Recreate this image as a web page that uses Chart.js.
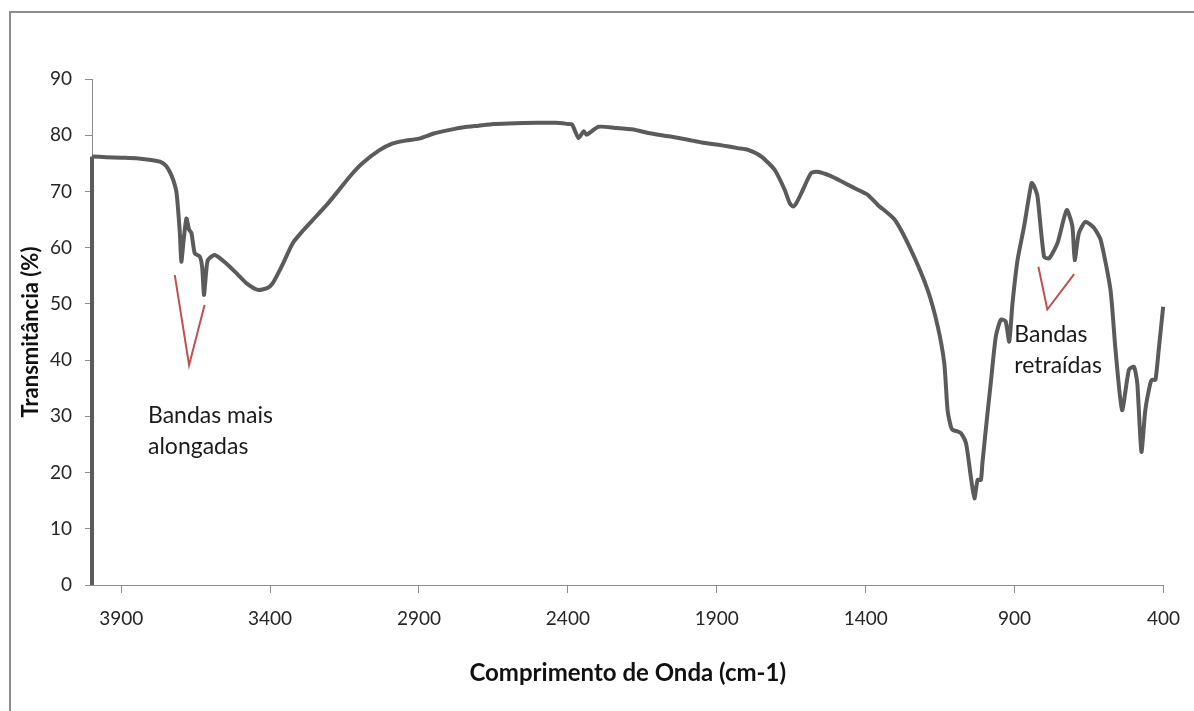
<!DOCTYPE html>
<html>
<head>
<meta charset="utf-8">
<script src="https://cdn.jsdelivr.net/npm/chart.js@4.4.1/dist/chart.umd.min.js"></script>
<style>
  html, body { margin: 0; padding: 0; background: #fff; }
  #wrap { width: 1194px; height: 711px; }
</style>
</head>
<body>
<div id="wrap"><canvas id="espectro" width="1194" height="711"></canvas></div>
<script>
// FTIR spectrum: wavenumber (cm-1) vs transmittance (%)
var numeroOnda = [
  3998, 3950, 3900, 3850, 3800, 3770, 3750, 3737, 3725, 3714, 3703, 3698, 3690,
  3681, 3672, 3664, 3653, 3636, 3628, 3622, 3615, 3609, 3586, 3547, 3510, 3480, 3441,
  3410, 3391, 3360, 3324, 3290, 3257, 3210, 3168, 3130, 3090, 3034, 2990, 2950, 2900,
  2850, 2800, 2750, 2700, 2650, 2600, 2500, 2441, 2400, 2386, 2364, 2347, 2337, 2297,
  2241, 2180, 2130, 2060, 1996, 1950, 1895, 1860, 1830, 1795, 1750, 1705, 1672, 1655,
  1644, 1632, 1616, 1583, 1562, 1520, 1471, 1430, 1393, 1359, 1303, 1248, 1192, 1158,
  1136, 1125, 1114, 1108, 1091, 1080, 1063, 1047, 1035, 1024, 1013, 1008, 991, 980,
  963, 946, 930, 918, 907, 890, 868, 843, 835, 823, 801, 784, 756, 725, 706, 698, 684,
  662, 633, 611, 578, 561, 539, 516, 499, 488, 474, 461, 444, 438, 427, 416, 401
];
var transmitancia = [
  76.2, 76.1, 76.0, 75.9, 75.6, 75.3, 74.6, 73.5, 72.0, 69.7, 62.6, 57.5, 61.5,
  65.2, 63.2, 62.6, 59.0, 58.4, 56.5, 51.6, 55.5, 57.8, 58.7, 57.2, 55.3, 53.7, 52.5,
  52.8, 53.7, 56.8, 60.8, 63.0, 64.9, 67.6, 70.3, 72.8, 75.0, 77.3, 78.5, 79.0, 79.4,
  80.3, 80.9, 81.4, 81.7, 82.0, 82.1, 82.2, 82.2, 82.0, 81.9, 79.5, 80.7, 80.1, 81.5,
  81.3, 81.0, 80.4, 79.8, 79.2, 78.7, 78.3, 78.0, 77.7, 77.4, 76.2, 73.8, 70.3, 67.9,
  67.3, 68.0, 69.7, 73.3, 73.5, 72.8, 71.5, 70.4, 69.4, 67.6, 65.0, 59.6, 52.5, 46.0,
  39.4, 31.1, 28.2, 27.6, 27.3, 27.0, 25.2, 19.3, 15.4, 18.7, 18.7, 21.7, 30.5, 35.9,
  44.2, 47.2, 46.9, 43.3, 50.1, 57.8, 63.8, 71.5, 71.0, 69.1, 58.4, 58.1, 60.8, 66.7, 63.8, 57.8, 62.6,
  64.6, 63.5, 61.4, 52.5, 41.8, 31.1, 38.3, 38.8, 35.9, 23.7, 31.1, 35.9, 36.5, 36.5, 41.8, 49.5
];
// the recorded trace starts with a jump from 0 at the first wavenumber
var inicioX = [3998, 3998];
var inicioY = [0, 76.2];
var ticksX = [3900, 3400, 2900, 2400, 1900, 1400, 900, 400];

// red markers and notes, in wavenumber / % coordinates
var marcaAlongadas = [[3720, 55.1], [3672, 39.1], [3620, 49.8]];
var marcaRetraidas = [[820, 56.6], [790, 49.0], [700, 55.3]];
var notaAlongadas = { x: 3810, y: 28.8, linhas: ['Bandas mais', 'alongadas'] };
var notaRetraidas = { x: 901, y: 43.3, linhas: ['Bandas', 'retraídas'] };

function pares(xs, ys) {
  return xs.map(function (w, i) { return { x: w, y: ys[i] }; });
}

var moldura = {
  id: 'moldura',
  beforeDraw: function (chart) {
    var c = chart.ctx;
    c.save();
    c.fillStyle = '#fff';
    c.fillRect(0, 0, chart.width, chart.height);
    c.strokeStyle = '#8c8c8c';
    c.lineWidth = 2;
    c.strokeRect(10, 12, chart.width + 20, chart.height + 20);
    c.restore();
  }
};

var anotacoes = {
  id: 'anotacoes',
  afterDatasetsDraw: function (chart) {
    var c = chart.ctx, sx = chart.scales.x, sy = chart.scales.y;
    c.save();
    c.strokeStyle = '#c0504d';
    c.lineWidth = 2;
    [marcaAlongadas, marcaRetraidas].forEach(function (m) {
      c.beginPath();
      m.forEach(function (p, i) {
        var px = sx.getPixelForValue(p[0]), py = sy.getPixelForValue(p[1]);
        if (i === 0) c.moveTo(px, py); else c.lineTo(px, py);
      });
      c.stroke();
    });
    c.fillStyle = '#1a1a1a';
    c.font = '23px Lato';
    c.textBaseline = 'alphabetic';
    [notaAlongadas, notaRetraidas].forEach(function (n) {
      var px = sx.getPixelForValue(n.x), py = sy.getPixelForValue(n.y);
      n.linhas.forEach(function (t, i) { c.fillText(t, px, py + i * 31); });
    });
    c.restore();
  }
};

var ctx = document.getElementById('espectro').getContext('2d');
var grafico = new Chart(ctx, {
  type: 'line',
  data: {
    datasets: [{
      data: pares(numeroOnda, transmitancia),
      borderColor: '#5b5b5b',
      borderWidth: 4,
      pointRadius: 0,
      tension: 0.2,
      fill: false,
      clip: 4
    }, {
      data: pares(inicioX, inicioY),
      borderColor: '#5b5b5b',
      borderWidth: 4,
      pointRadius: 0,
      tension: 0,
      fill: false,
      clip: 4
    }]
  },
  options: {
    responsive: false,
    animation: false,
    layout: { padding: { top: 79, right: 29, left: 0, bottom: 0 } },
    plugins: { legend: { display: false }, tooltip: { enabled: false } },
    scales: {
      x: {
        type: 'linear',
        reverse: true,
        min: 400,
        max: 3998,
        afterBuildTicks: function (s) { s.ticks = ticksX.map(function (v) { return { value: v }; }); },
        afterFit: function (s) { s.height = 126; },
        border: { color: '#8c8c8c', width: 1 },
        grid: { drawOnChartArea: false, drawTicks: true, tickLength: 8, color: '#8c8c8c' },
        ticks: {
          color: '#262626', font: { family: 'Lato', size: 19 }, padding: 14, maxRotation: 0, autoSkip: false,
          callback: function (v) { return String(v); }
        },
        title: {
          display: true,
          text: 'Comprimento de Onda (cm-1)',
          color: '#111',
          font: { family: 'Lato', size: 24, weight: 'bold' },
          padding: { top: 0, bottom: 23 }
        }
      },
      y: {
        min: 0,
        max: 90,
        afterFit: function (s) { s.width = 92; },
        border: { color: '#8c8c8c', width: 1 },
        grid: { drawOnChartArea: false, drawTicks: true, tickLength: 7, color: '#8c8c8c' },
        ticks: { stepSize: 10, color: '#262626', font: { family: 'Lato', size: 19 }, padding: 13 },
        title: {
          display: true,
          text: 'Transmitância (%)',
          color: '#111',
          font: { family: 'Lato', size: 22, weight: 'bold' },
          padding: { top: 18, bottom: 0 }
        }
      }
    }
  },
  plugins: [moldura, anotacoes]
});
</script>
</body>
</html>
